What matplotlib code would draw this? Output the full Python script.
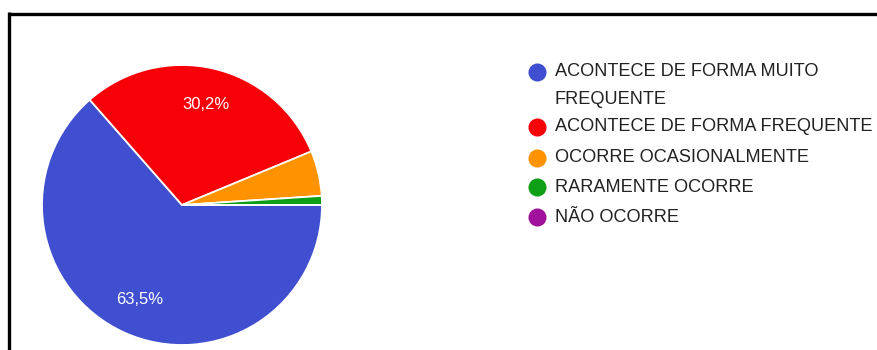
import matplotlib
matplotlib.use("Agg")
import matplotlib.pyplot as plt
from matplotlib.lines import Line2D
from matplotlib import font_manager

# Response counts per answer option
categories = [
    "ACONTECE DE FORMA MUITO\nFREQUENTE",
    "ACONTECE DE FORMA FREQUENTE",
    "OCORRE OCASIONALMENTE",
    "RARAMENTE OCORRE",
    "NÃO OCORRE",
]
counts = [61, 29, 5, 1, 0]
colors = ["#3f4fd0", "#f80008", "#ff9200", "#0f9f17", "#a0129c"]

W, H = 878, 350
fig = plt.figure(figsize=(W / 100, H / 100), dpi=100)
fig.patch.set_facecolor("white")

available = {f.name for f in font_manager.fontManager.ttflist}
label_family = [f for f in ["Liberation Sans Narrow", "DejaVu Sans Condensed",
                             "Liberation Sans"] if f in available] or ["DejaVu Sans"]
legend_family = [f for f in ["Liberation Sans", "Arial", "DejaVu Sans"] if f in available] or ["DejaVu Sans"]

# Pie: center (182, 205) px from top, radius 140 px
cx, cy, r = 182, 205, 140
ax = fig.add_axes([(cx - r) / W, (H - cy - r) / H, 2 * r / W, 2 * r / H])


def fmt(p):
    return f"{p:.1f}%".replace(".", ",") if p > 10 else ""


wedges, texts, autotexts = ax.pie(
    counts,
    colors=colors,
    startangle=0,
    counterclock=False,
    autopct=fmt,
    pctdistance=0.74,
    wedgeprops=dict(edgecolor="white", linewidth=1.3),
    textprops=dict(color="white", fontsize=12, family=label_family),
)
ax.set_xlim(-1.0, 1.0)
ax.set_ylim(-1.0, 1.0)
ax.axis("off")

# Legend drawn as markers and labels in pixel positions
row_y = [72, 127, 158, 187, 217]
for y, lab, col in zip(row_y, categories, colors):
    fig.add_artist(Line2D([537 / W], [1 - y / H], marker="o", markersize=13,
                          color=col, markeredgewidth=0, transform=fig.transFigure))
    fig.text(555 / W, 1 - (y - 8.5) / H, lab, ha="left", va="top",
             fontsize=13.1, color="#222222", family=legend_family,
             linespacing=1.8)

# Frame lines along the top and left edges
fig.add_artist(Line2D([8.5 / W, 1.0], [1 - 13.5 / H, 1 - 13.5 / H],
                      color="black", linewidth=2.4, transform=fig.transFigure,
                      solid_capstyle="butt"))
fig.add_artist(Line2D([8.5 / W, 8.5 / W], [0, 1 - 12.3 / H],
                      color="black", linewidth=2.4, transform=fig.transFigure,
                      solid_capstyle="butt"))

fig.savefig("out.png", dpi=100, facecolor="white")
